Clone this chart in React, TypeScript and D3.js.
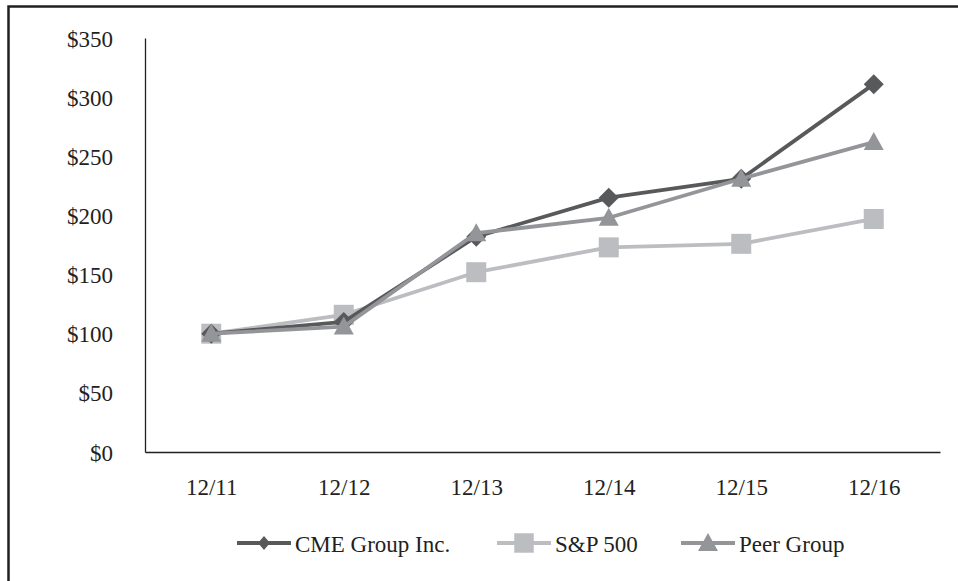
import { useEffect, useRef } from "react"
import * as d3 from "d3"

// Data
const years = ["12/11", "12/12", "12/13", "12/14", "12/15", "12/16"]
const cmeValues = [100, 110, 182, 215, 231, 311]
const spValues = [100, 116, 152, 173, 176, 197]
const peerValues = [100, 106, 185, 198, 231, 262]
const yTicks = [0, 50, 100, 150, 200, 250, 300, 350]

type Marker = "diamond" | "square" | "triangle"

interface Series {
  name: string
  values: number[]
  color: string
  marker: Marker
}

const FONT = "'Liberation Serif', 'Times New Roman', serif"
const INK = "#231f20"

function markerPath(marker: Marker, big: boolean) {
  if (marker === "square") return d3.symbol(d3.symbolSquare, big ? 400 : 380)()
  if (marker === "triangle") {
    const w = 10
    return `M0,${-10}L${w},8L${-w},8Z`
  }
  // diamond
  return big ? "M0,-10L10,0L0,10L-10,0Z" : "M0,-7L6,0L0,7L-6,0Z"
}

export default function App() {
  const svgRef = useRef<SVGSVGElement>(null)

  useEffect(() => {
    if (!svgRef.current) return
    const svg = d3.select(svgRef.current)
    svg.selectAll("*").remove()

    const width = 958
    const height = 581
    const margin = { left: 145, right: 18, top: 38, bottom: 129 }

    svg.attr("width", width).attr("height", height)

    // outer frame (runs off the right and bottom edge)
    svg
      .append("rect")
      .attr("x", 8.5)
      .attr("y", 6.5)
      .attr("width", 1000)
      .attr("height", 1000)
      .attr("fill", "none")
      .attr("stroke", INK)
      .attr("stroke-width", 2.5)

    const x = d3
      .scalePoint<string>()
      .domain(years)
      .range([margin.left, width - margin.right])
      .padding(0.5)

    const y = d3
      .scaleLinear()
      .domain([0, 350])
      .range([height - margin.bottom, margin.top])

    // y axis
    const yAxis = svg
      .append("g")
      .attr("transform", `translate(${margin.left},0)`)
      .call(
        d3
          .axisLeft(y)
          .tickValues(yTicks)
          .tickSize(0)
          .tickPadding(32)
          .tickFormat((d) => `$${d}`)
      )
    yAxis.select(".domain").attr("stroke", INK).attr("stroke-width", 1.3)
    yAxis
      .selectAll("text")
      .attr("fill", INK)
      .attr("dy", "0.35em")
      .style("font-family", FONT)
      .style("font-size", "23px")

    // x axis
    const xAxis = svg
      .append("g")
      .attr("transform", `translate(0,${height - margin.bottom})`)
      .call(d3.axisBottom(x).tickSize(0).tickPadding(27))
    xAxis.select(".domain").attr("stroke", INK).attr("stroke-width", 1.3)
    xAxis
      .selectAll("text")
      .attr("fill", INK)
      .style("font-family", FONT)
      .style("font-size", "23px")

    const series: Series[] = [
      { name: "CME Group Inc.", values: cmeValues, color: "#58595b", marker: "diamond" },
      { name: "S&P 500", values: spValues, color: "#bcbdc0", marker: "square" },
      { name: "Peer Group", values: peerValues, color: "#939598", marker: "triangle" },
    ]

    const line = d3
      .line<number>()
      .x((_, i) => x(years[i]) as number)
      .y((d) => y(d))

    // drawing order: S&P, CME, Peer
    const drawOrder = [series[1], series[0], series[2]]
    drawOrder.forEach((s) => {
      const g = svg.append("g")
      g.append("path")
        .attr("d", line(s.values))
        .attr("fill", "none")
        .attr("stroke", s.color)
        .attr("stroke-width", 3.8)
        .attr("stroke-linejoin", "round")

      g.selectAll("path.marker")
        .data(s.values)
        .enter()
        .append("path")
        .attr("class", "marker")
        .attr("d", markerPath(s.marker, true))
        .attr("transform", (d, i) => `translate(${x(years[i])},${y(d)})`)
        .attr("fill", s.color)
    })

    // legend
    const legendY = 543
    const legendX = [237, 497, 681]
    const legend = svg
      .selectAll(".legend-item")
      .data(series)
      .enter()
      .append("g")
      .attr("class", "legend-item")
      .attr("transform", (_, i) => `translate(${legendX[i]},${legendY})`)

    legend
      .append("line")
      .attr("x1", 0)
      .attr("x2", 54)
      .attr("stroke", (d) => d.color)
      .attr("stroke-width", 4.2)

    legend
      .append("path")
      .attr("d", (d) => markerPath(d.marker, false))
      .attr("transform", "translate(27,0)")
      .attr("fill", (d) => d.color)

    legend
      .append("text")
      .attr("x", 58)
      .attr("y", 9)
      .attr("fill", INK)
      .style("font-family", FONT)
      .style("font-size", "23px")
      .text((d) => d.name)
  }, [])

  return (
    <svg
      ref={svgRef}
      style={{ position: "absolute", left: 0, top: 0, background: "#fff" }}
    ></svg>
  )
}
